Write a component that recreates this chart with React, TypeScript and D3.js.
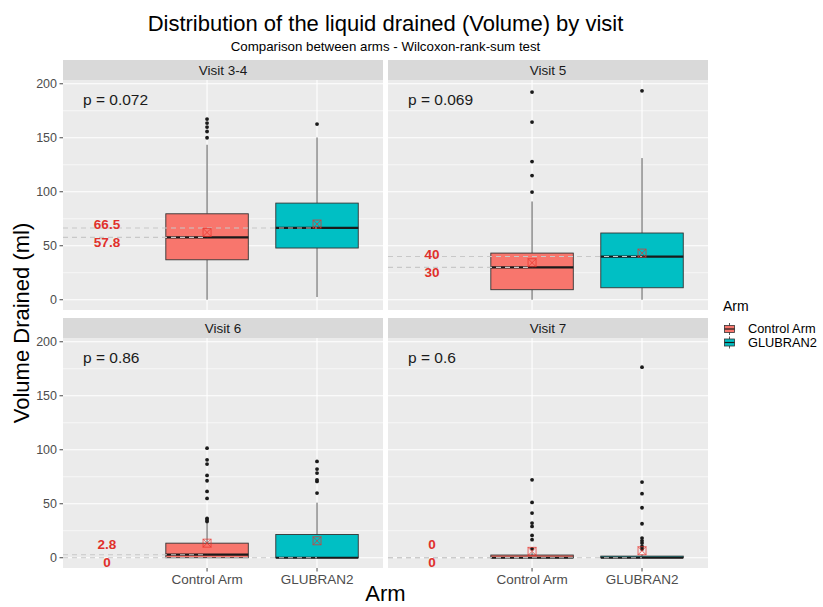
import React from "react";
import * as d3 from "d3";

const visits = ["Visit 3-4", "Visit 5", "Visit 6", "Visit 7"];
const arms = ["Control Arm", "GLUBRAN2"];
const armColors = ["#F8766D", "#00BFC4"];
const pLabels = ["p = 0.072", "p = 0.069", "p = 0.86", "p = 0.6"];
const yTicks = [0, 50, 100, 150, 200];
const yMinor = [25, 75, 125, 175];

// Control Arm
const ctrlMin = [0, 0, 0, 0];
const ctrlQ1 = [37, 9.3, 0, 0];
const ctrlMedian = [57.8, 30, 2.8, 0];
const ctrlQ3 = [79.6, 43.2, 13.5, 2.5];
const ctrlMax = [143.5, 91, 32, 5];
const ctrlMean = [62.3, 34.3, 13.5, 5.9];
const ctrlOutliers = [
  [150, 155.8, 159.9, 163.6, 167.3],
  [99.7, 115, 128, 164.5, 192.3],
  [33.5, 35, 36.5, 54.9, 61.4, 71.3, 76.2, 86.7, 90.7, 101.5],
  [8.3, 16.7, 20.7, 29, 32.1, 41.4, 51.2, 72.2],
];

// GLUBRAN2
const glubMin = [2.5, 0, 0, 0];
const glubQ1 = [47.9, 11.1, 0, 0];
const glubMedian = [66.5, 40, 0, 0];
const glubQ3 = [89.5, 61.8, 21.5, 1.5];
const glubMax = [150.3, 131.2, 51, 3];
const glubMean = [70.1, 43.2, 15.7, 6.5];
const glubOutliers = [
  [162.7],
  [193.5],
  [59.9, 70.7, 72.2, 78.4, 82.1, 89.2],
  [8.1, 10.5, 13.6, 15.7, 18.2, 31.5, 46.3, 59.3, 70.1, 176.5],
];

const FONT = "'Liberation Sans', Arial, Helvetica, sans-serif";
const panelLefts = [63, 388];
const panelTops = [80, 338];
const PW = 320;
const PH = 230;
const STRIP = 20;

function Panel({ idx }: { idx: number }) {
  const col = idx % 2;
  const row = Math.floor(idx / 2);
  const left = panelLefts[col];
  const top = panelTops[row];
  const x = d3.scaleLinear().domain([-0.31, 2.6]).range([left, left + PW]);
  const y = d3.scaleLinear().domain([-9.5, 203.5]).range([top + PH, top]);
  const bw = x(0.375) - x(0);

  const stats = [
    { min: ctrlMin[idx], q1: ctrlQ1[idx], med: ctrlMedian[idx], q3: ctrlQ3[idx], max: ctrlMax[idx], mean: ctrlMean[idx], out: ctrlOutliers[idx] },
    { min: glubMin[idx], q1: glubQ1[idx], med: glubMedian[idx], q3: glubQ3[idx], max: glubMax[idx], mean: glubMean[idx], out: glubOutliers[idx] },
  ];
  const meds = [stats[0].med, stats[1].med];
  const hi = Math.max(...meds);
  const lo = Math.min(...meds);
  const upY = Math.min(y(hi) - 2, y(lo) - 13);
  const loY = y(lo) + 4.5;

  return (
    <g>
      <rect x={left} y={top - STRIP} width={PW} height={STRIP} fill="#D9D9D9" />
      <text x={left + PW / 2} y={top - STRIP / 2} dy="0.35em" textAnchor="middle" fontSize={13.5} fill="#1a1a1a" fontFamily={FONT}>
        {visits[idx]}
      </text>
      <rect x={left} y={top} width={PW} height={PH} fill="#EBEBEB" />
      {yMinor.map((t) => (
        <line key={"mi" + t} x1={left} x2={left + PW} y1={y(t)} y2={y(t)} stroke="#fff" strokeWidth={0.6} />
      ))}
      {yTicks.map((t) => (
        <line key={"ma" + t} x1={left} x2={left + PW} y1={y(t)} y2={y(t)} stroke="#fff" strokeWidth={1.1} />
      ))}
      {arms.map((a, i) => (
        <line key={"vx" + a} x1={x(i + 1)} x2={x(i + 1)} y1={top} y2={top + PH} stroke="#fff" strokeWidth={1.1} />
      ))}
      {stats.map((s, i) => {
        const cx = x(i + 1);
        return (
          <g key={"box" + i}>
            <line x1={cx} x2={cx} y1={y(s.q3)} y2={y(s.max)} stroke="#444" strokeWidth={0.9} />
            <line x1={cx} x2={cx} y1={y(s.q1)} y2={y(s.min)} stroke="#444" strokeWidth={0.9} />
            <rect x={cx - bw} y={y(s.q3)} width={bw * 2} height={Math.max(y(s.q1) - y(s.q3), 0.5)} fill={armColors[i]} stroke="#333" strokeWidth={0.9} />
            <line x1={cx - bw} x2={cx + bw} y1={y(s.med)} y2={y(s.med)} stroke="#1a1a1a" strokeWidth={2.2} />
            {s.out.map((o, j) => (
              <circle key={j} cx={cx} cy={y(o)} r={1.9} fill="#1a1a1a" />
            ))}
          </g>
        );
      })}
      {stats.map((s, i) => (
        <line key={"seg" + i} x1={left} x2={x(i + 1)} y1={y(s.med)} y2={y(s.med)} stroke="#C8C8C8" strokeWidth={1.1} strokeDasharray="5,4" />
      ))}
      {stats.map((s, i) => {
        const cx = x(i + 1);
        const cy = y(s.mean);
        const h = 4;
        return (
          <g key={"mean" + i} stroke="#E8302A" strokeOpacity={0.7} strokeWidth={1} fill="none">
            <rect x={cx - h} y={cy - h} width={h * 2} height={h * 2} />
            <line x1={cx - h} y1={cy - h} x2={cx + h} y2={cy + h} />
            <line x1={cx - h} y1={cy + h} x2={cx + h} y2={cy - h} />
          </g>
        );
      })}
      <text x={left + 44} y={upY} dy="0.35em" textAnchor="middle" fontSize={13.5} fontWeight="bold" fill="#E0302B" fontFamily={FONT}>
        {String(hi)}
      </text>
      <text x={left + 44} y={loY} dy="0.35em" textAnchor="middle" fontSize={13.5} fontWeight="bold" fill="#E0302B" fontFamily={FONT}>
        {String(lo)}
      </text>
      <text x={left + 20} y={y(185)} dy="0.35em" fontSize={15.5} fill="#1a1a1a" fontFamily={FONT}>
        {pLabels[idx]}
      </text>
      {col === 0 &&
        yTicks.map((t) => (
          <g key={"yt" + t}>
            <line x1={left - 3.5} x2={left} y1={y(t)} y2={y(t)} stroke="#333" strokeWidth={0.9} />
            <text x={left - 6} y={y(t)} dy="0.35em" textAnchor="end" fontSize={12.5} fill="#4D4D4D" fontFamily={FONT}>
              {t}
            </text>
          </g>
        ))}
      {row === 1 &&
        arms.map((a, i) => (
          <g key={"xt" + a}>
            <line x1={x(i + 1)} x2={x(i + 1)} y1={top + PH} y2={top + PH + 3.5} stroke="#333" strokeWidth={0.9} />
            <text x={x(i + 1)} y={top + PH + 15.5} textAnchor="middle" fontSize={13.5} fill="#4D4D4D" fontFamily={FONT}>
              {a}
            </text>
          </g>
        ))}
    </g>
  );
}

export default function App() {
  const legendY = [329, 342.5];
  return (
    <svg width={823} height={607} style={{ position: "absolute", left: 0, top: 0, background: "#fff" }} fontFamily={FONT}>
      <rect width={823} height={607} fill="#fff" />
      <text x={385.5} y={31} textAnchor="middle" fontSize={22} fill="#000">
        Distribution of the liquid drained (Volume) by visit
      </text>
      <text x={385.5} y={51} textAnchor="middle" fontSize={13.3} fill="#000">
        Comparison between arms - Wilcoxon-rank-sum test
      </text>
      {visits.map((v, i) => (
        <Panel key={v} idx={i} />
      ))}
      <text transform="translate(29,323) rotate(-90)" textAnchor="middle" fontSize={22} fill="#000">
        Volume Drained (ml)
      </text>
      <text x={385.5} y={601} textAnchor="middle" fontSize={22} fill="#000">
        Arm
      </text>
      <text x={723} y={311} fontSize={14} fill="#000">
        Arm
      </text>
      {arms.map((a, i) => {
        const cy = legendY[i];
        return (
          <g key={"lg" + a}>
            <line x1={729.5} x2={729.5} y1={cy - 6} y2={cy + 6} stroke="#444" strokeWidth={0.9} />
            <rect x={724.5} y={cy - 3.5} width={10} height={7} fill={armColors[i]} stroke="#333" strokeWidth={0.8} />
            <line x1={724.5} x2={734.5} y1={cy} y2={cy} stroke="#1a1a1a" strokeWidth={1.2} />
            <text x={748} y={cy} dy="0.35em" fontSize={12.8} fill="#000">
              {a}
            </text>
          </g>
        );
      })}
    </svg>
  );
}
